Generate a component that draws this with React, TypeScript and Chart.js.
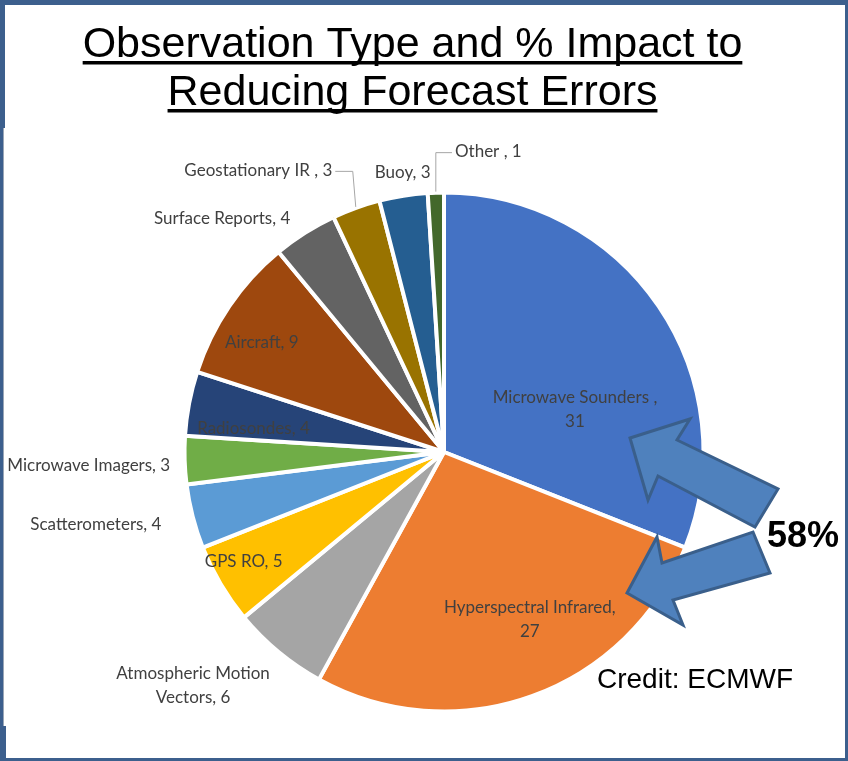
import React, { useEffect, useRef } from "react";
import { Chart, registerables } from "chart.js";

Chart.register(...registerables);

// ---------- data ----------
const CATEGORIES = [
  "Microwave Sounders ",
  "Hyperspectral Infrared",
  "Atmospheric Motion Vectors",
  "GPS RO",
  "Scatterometers",
  "Microwave Imagers",
  "Radiosondes",
  "Aircraft",
  "Surface Reports",
  "Geostationary IR ",
  "Buoy",
  "Other ",
];
const VALUES = [31, 27, 6, 5, 4, 3, 4, 9, 4, 3, 3, 1];
const COLORS = [
  "#4472C4",
  "#ED7D31",
  "#A5A5A5",
  "#FFC000",
  "#5B9BD5",
  "#70AD47",
  "#264478",
  "#9E480E",
  "#636363",
  "#997300",
  "#255E91",
  "#43682B",
];
const TITLE_LINES = ["Observation Type and % Impact to", "Reducing Forecast Errors"];
const CALLOUT_TEXT = "58%";
const CREDIT_TEXT = "Credit: ECMWF";

// ---------- styling / layout ----------
// label placement relative to each slice: angle nudge (deg) and radius factor
const LABEL_LAYOUT = [
  { dAng: 16.4, r: 0.53, breakAt: 3 },
  { dAng: -7.3, r: 0.726, breakAt: 2 },
  { dAng: 7.5, r: 1.32, breakAt: 2 },
  { dAng: 1.9, r: 0.88 },
  { dAng: 2.7, r: 1.37 },
  { dAng: -0.3, r: 1.37 },
  { dAng: -3.7, r: 0.74 },
  { dAng: -3.1, r: 0.82 },
  { dAng: -11.2, r: 1.24 },
  { dAng: -13.6, r: 1.3, leader: "right", elbowDx: -3 },
  { dAng: 0.6, r: 1.09 },
  { dAng: 10.2, r: 1.17, leader: "left", elbowDx: 0 },
];
const LABEL_FONT = "17px Lato, 'Open Sans', sans-serif";
const LABEL_COLOR = "#404040";
const LABEL_LINE_H = 24;

const FRAME_COLOR = "#3C5F8D";
const ARROW_FILL = "#4F81BD";
const ARROW_STROKE = "#3A5F8B";
const ARROWS = [
  [
    [630, 438],
    [690, 419],
    [677, 440],
    [778, 489],
    [755, 527],
    [658, 476],
    [648, 500],
  ],
  [
    [627, 593],
    [657, 537],
    [662, 563],
    [753, 532],
    [770, 573],
    [673, 600],
    [683, 625],
  ],
];

const W = 848;
const H = 761;

const decorPlugin = {
  id: "decor",
  afterDraw(chart: any) {
    const ctx = chart.ctx as CanvasRenderingContext2D;
    ctx.save();

    // frame
    ctx.fillStyle = FRAME_COLOR;
    ctx.fillRect(0, 0, W, 5);
    ctx.fillRect(0, 0, 5, 128);
    ctx.fillRect(0, 128, 3, 600);
    ctx.fillRect(0, 726, 6, H - 726);
    ctx.fillRect(W - 3, 0, 3, H);
    ctx.fillRect(0, H - 3, W, 3);
    ctx.fillStyle = "#9AA6B6";
    ctx.fillRect(3, 128, 1, 598);

    // title
    ctx.fillStyle = "#000";
    ctx.font = "43px 'Liberation Sans', Arial, sans-serif";
    ctx.textAlign = "center";
    ctx.textBaseline = "alphabetic";
    const tcx = 412.5;
    const baselines = [57, 105];
    TITLE_LINES.forEach((t, i) => {
      ctx.fillText(t, tcx, baselines[i]);
      const w = ctx.measureText(t).width;
      ctx.fillRect(tcx - w / 2, baselines[i] + 4, w, 3.5);
    });

    // labels
    const meta = chart.getDatasetMeta(0);
    ctx.font = LABEL_FONT;
    ctx.fillStyle = LABEL_COLOR;
    ctx.textBaseline = "middle";
    ctx.textAlign = "center";
    meta.data.forEach((el: any, i: number) => {
      const p = el.getProps(["x", "y", "startAngle", "endAngle", "outerRadius"], true);
      const lay = LABEL_LAYOUT[i];
      const mid = (p.startAngle + p.endAngle) / 2;
      const a = mid + (lay.dAng * Math.PI) / 180;
      const cx = p.x + Math.cos(a) * p.outerRadius * lay.r;
      const cy = p.y + Math.sin(a) * p.outerRadius * lay.r;
      const text = `${CATEGORIES[i]}, ${VALUES[i]}`;
      let lines = [text];
      if (lay.breakAt) {
        const words = text.split(" ");
        lines = [words.slice(0, lay.breakAt).join(" "), words.slice(lay.breakAt).join(" ")];
      }
      const y0 = cy - ((lines.length - 1) * LABEL_LINE_H) / 2;
      ctx.fillStyle = LABEL_COLOR;
      lines.forEach((ln, k) => ctx.fillText(ln, cx, y0 + k * LABEL_LINE_H));

      if (lay.leader) {
        const w = ctx.measureText(lines[0]).width;
        const ex = p.x + Math.cos(mid) * (p.outerRadius + 1);
        const ey = p.y + Math.sin(mid) * (p.outerRadius + 1);
        const elbowX = ex + (lay.elbowDx || 0);
        const tx = lay.leader === "right" ? cx + w / 2 + 3 : cx - w / 2 - 3;
        ctx.strokeStyle = "#A6A6A6";
        ctx.lineWidth = 1;
        ctx.beginPath();
        ctx.moveTo(tx, cy + 1);
        ctx.lineTo(elbowX, cy + 1);
        ctx.lineTo(ex, ey);
        ctx.stroke();
      }
    });

    // arrows
    ARROWS.forEach((pts) => {
      ctx.beginPath();
      pts.forEach(([x, y], k) => (k === 0 ? ctx.moveTo(x, y) : ctx.lineTo(x, y)));
      ctx.closePath();
      ctx.fillStyle = ARROW_FILL;
      ctx.fill();
      ctx.strokeStyle = ARROW_STROKE;
      ctx.lineWidth = 3;
      ctx.lineJoin = "miter";
      ctx.stroke();
    });

    // callout and credit
    ctx.fillStyle = "#000";
    ctx.textAlign = "left";
    ctx.textBaseline = "alphabetic";
    ctx.font = "bold 36px 'Liberation Sans', Arial, sans-serif";
    ctx.fillText(CALLOUT_TEXT, 767, 547);
    ctx.font = "28px 'Liberation Sans', Arial, sans-serif";
    ctx.fillText(CREDIT_TEXT, 597, 688);

    ctx.restore();
  },
};

export default function App() {
  const ref = useRef<HTMLCanvasElement | null>(null);
  useEffect(() => {
    if (!ref.current) return;
    const chart = new Chart(ref.current, {
      type: "pie",
      data: {
        labels: CATEGORIES,
        datasets: [
          {
            data: VALUES,
            backgroundColor: COLORS,
            borderColor: "#FFFFFF",
            borderWidth: 4,
          },
        ],
      },
      options: {
        responsive: false,
        animation: false,
        devicePixelRatio: 1,
        layout: { padding: { left: 182.5, top: 190.5, right: 142.5, bottom: 47.5 } },
        plugins: {
          legend: { display: false },
          tooltip: { enabled: false },
          title: { display: false },
        },
      },
      plugins: [decorPlugin],
    });
    return () => chart.destroy();
  }, []);
  return (
    <div style={{ position: "fixed", left: 0, top: 0, width: W, height: H, background: "#fff" }}>
      <canvas ref={ref} width={W} height={H} style={{ display: "block" }} />
    </div>
  );
}
